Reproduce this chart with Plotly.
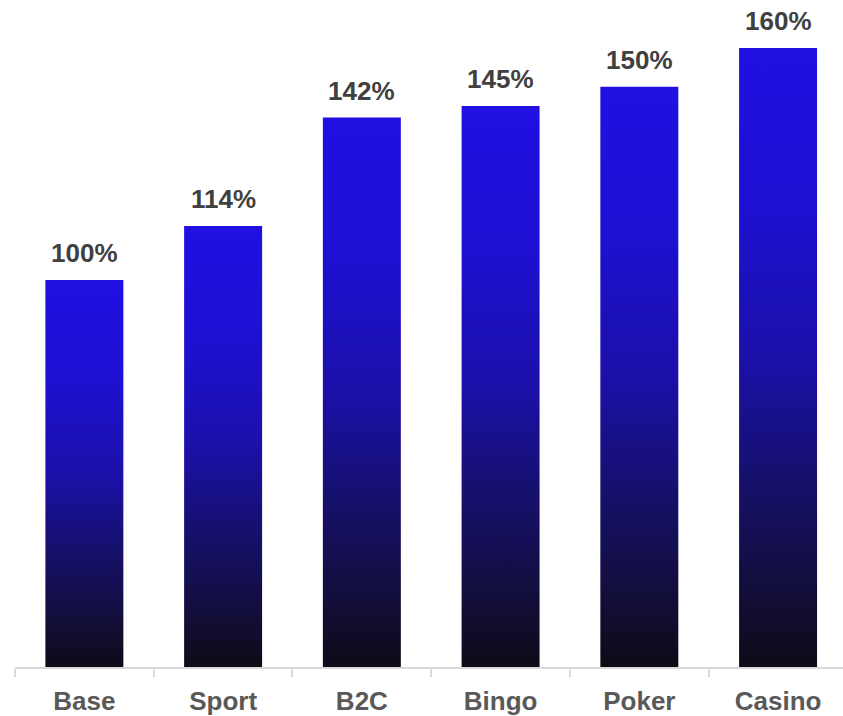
import plotly.graph_objects as go

categories = ["Base", "Sport", "B2C", "Bingo", "Poker", "Casino"]
values = [100, 114, 142, 145, 150, 160]
labels = ["100%", "114%", "142%", "145%", "150%", "160%"]

bar_width = 0.562
gradient = [
    [0.0, "#0f0a16"],
    [0.12, "#120e38"],
    [0.3, "#16106a"],
    [0.5, "#1b10a8"],
    [0.75, "#1e10d2"],
    [1.0, "#2010e2"],
]

fig = go.Figure()
for i, v in enumerate(values):
    x0, x1 = i - bar_width / 2, i + bar_width / 2
    fig.add_trace(go.Scatter(
        x=[x0, x1, x1, x0, x0],
        y=[0, 0, v, v, 0],
        mode="lines",
        line=dict(width=0),
        fill="toself",
        fillgradient=dict(type="vertical", colorscale=gradient, start=0, stop=v),
        hoverinfo="skip",
        showlegend=False,
    ))
    fig.add_annotation(
        x=i, y=v, text=labels[i], showarrow=False,
        yanchor="bottom", yshift=10,
        font=dict(family="Liberation Sans, Arial", size=26, color="#404040", weight="bold"),
    )

fig.update_layout(
    width=843, height=716,
    margin=dict(l=15, r=0, t=0, b=47),
    plot_bgcolor="white", paper_bgcolor="white",
    showlegend=False,
)
fig.update_xaxes(
    range=[-0.5, 5.468],
    tickmode="array",
    tickvals=list(range(len(categories))),
    ticktext=categories,
    ticks="",
    tickfont=dict(family="Liberation Sans, Arial", size=26, color="#595959", weight="bold"),
    ticklabelstandoff=10,
    showline=True, linecolor="#d9d9d9", linewidth=2,
    showgrid=False, zeroline=False,
    minor=dict(ticks="outside", tick0=-0.5, dtick=1, ticklen=8, tickcolor="#d9d9d9", tickwidth=2, showgrid=False),
)
fig.update_yaxes(
    range=[0, 172.4],
    visible=False,
    showgrid=False, zeroline=False,
)

fig.write_html("out.html", config={"displayModeBar": False},
               post_script="document.body.style.margin='0';")
